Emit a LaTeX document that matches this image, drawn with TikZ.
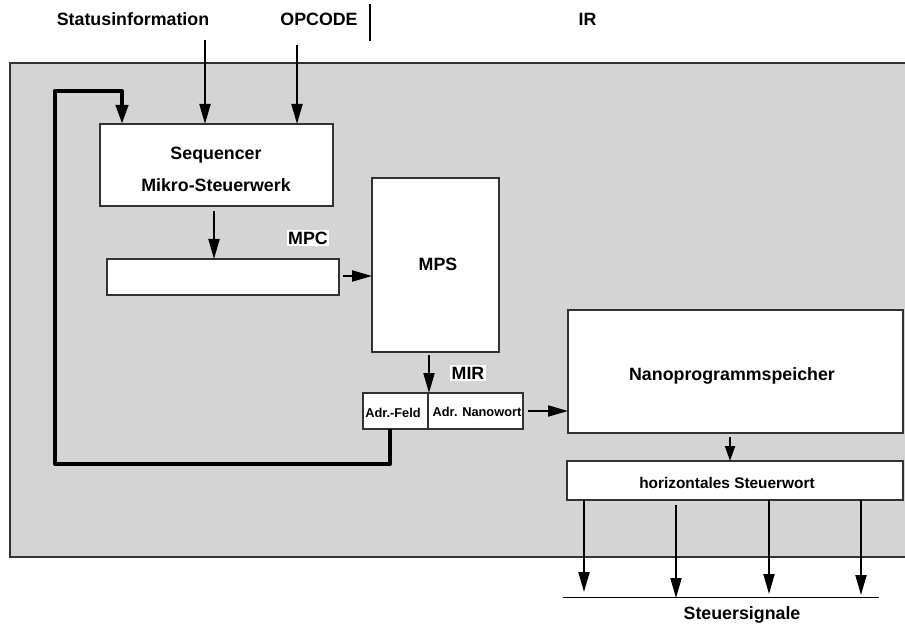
\documentclass[tikz,border=0pt]{standalone}
\usepackage{fontspec}
\setmainfont{Liberation Sans}
\usetikzlibrary{arrows.meta}
\definecolor{bggray}{RGB}{212,212,212}
\definecolor{edge}{RGB}{50,50,50}
\begin{document}
\begin{tikzpicture}[x=1pt,y=-1pt,
  box/.style={draw=edge, line width=1.3pt, fill=white, inner sep=0pt, outer sep=0pt},
  big/.style={font=\fontsize{17.8}{20}\selectfont\bfseries, inner sep=0pt},
  mid/.style={font=\fontsize{15.4}{18}\selectfont\bfseries, inner sep=0pt},
  small/.style={font=\fontsize{12.8}{15}\selectfont\bfseries, inner sep=0pt},
  arr/.style={line width=2pt, -{Triangle[length=20pt,width=11pt]}},
  fb/.style={line width=4pt, line join=round, -{Triangle[length=19pt,width=12pt]}},
  tag/.style={fill=white, inner sep=1.5pt}]
\useasboundingbox (0,0) rectangle (905,628);
% shaded area
\fill[bggray] (10,63) rectangle (915,557);
\draw[edge, line width=1.3pt] (915,63) -- (10,63) -- (10,557) -- (915,557);
% top labels
\node[big] (stat) at (133,19) {Statusinformation};
\node[big] (opc) at (319,19) {OPCODE};
\node[big] (ir) at (587.5,19) {IR};
\coordinate (irl1) at (370,4);
\coordinate (irl2) at (370,41);
\draw[line width=1.2pt] (irl1) -- (irl2);
% boxes
\node[box, minimum width=233pt, minimum height=82pt] (seq) at (216.5,165) {};
\node[big] (seqt1) at (216,155) {Sequencer};
\node[big] (seqt2) at (216,185) {Mikro-Steuerwerk};
\node[box, minimum width=232pt, minimum height=36pt] (mpc) at (223,277) {};
\node[big, tag] (mpcl) at (308,238) {MPC};
\node[box, minimum width=127pt, minimum height=174pt] (mps) at (435.5,265) {};
\node[big] (mpst) at (438,264) {MPS};
\node[box, minimum width=65pt, minimum height=36pt] (adrf) at (395.5,411) {};
\node[box, minimum width=95pt, minimum height=36pt] (adrn) at (475.5,411) {};
\node[small] (adrft) at (393,412.5) {Adr.-Feld};
\node[small] (adrnt) at (477,412) {Adr. Nanowort};
\node[big, tag] (mirl) at (468,373) {MIR};
\node[box, minimum width=335pt, minimum height=123pt] (nano) at (735.5,371.5) {};
\node[big] (nanot) at (732,376) {Nanoprogrammspeicher};
\node[box, minimum width=336pt, minimum height=39pt] (hsw) at (735,480.5) {};
\node[mid] (hswt) at (727,483) {horizontales Steuerwort};
% inputs
\coordinate (sin) at (205,40);
\coordinate (oin) at (297,45);
\draw[arr] (sin) -- (sin |- seq.north);
\draw[arr] (oin) -- (oin |- seq.north);
% feedback loop
\coordinate (fb0) at (390,429);
\coordinate (fb1) at (55,464);
\coordinate (fb2) at (122,91);
\draw[fb] (fb0) |- (fb1) |- (fb2) -- (fb2 |- seq.north);
% internal arrows
\coordinate (a1) at (214,211);
\draw[arr] (a1) -- (a1 |- mpc.north);
\coordinate (a2) at (343,276);
\draw[arr] (a2) -- (a2 -| mps.west);
\coordinate (a3) at (429,355);
\draw[arr] (a3) -- (a3 |- adrn.north);
\coordinate (a4) at (528,411);
\draw[arr] (a4) -- (a4 -| nano.west);
\coordinate (a5) at (730,437);
\draw[line width=2pt, -{Triangle[length=15pt,width=10pt]}] (a5) -- (a5 |- hsw.north);
% outputs
\coordinate (o1) at (584,592);
\coordinate (o2a) at (676,505);
\coordinate (o2) at (676,598);
\coordinate (o3) at (769,594);
\coordinate (o4) at (861,595);
\draw[arr] (o1 |- hsw.south) -- (o1);
\draw[arr] (o2a) -- (o2);
\draw[arr] (o3 |- hsw.south) -- (o3);
\draw[arr] (o4 |- hsw.south) -- (o4);
\coordinate (sl1) at (563,597.5);
\coordinate (sl2) at (879,597.5);
\draw[line width=1pt] (sl1) -- (sl2);
\node[big] (steu) at (742,615) {Steuersignale};
\end{tikzpicture}
\end{document}
